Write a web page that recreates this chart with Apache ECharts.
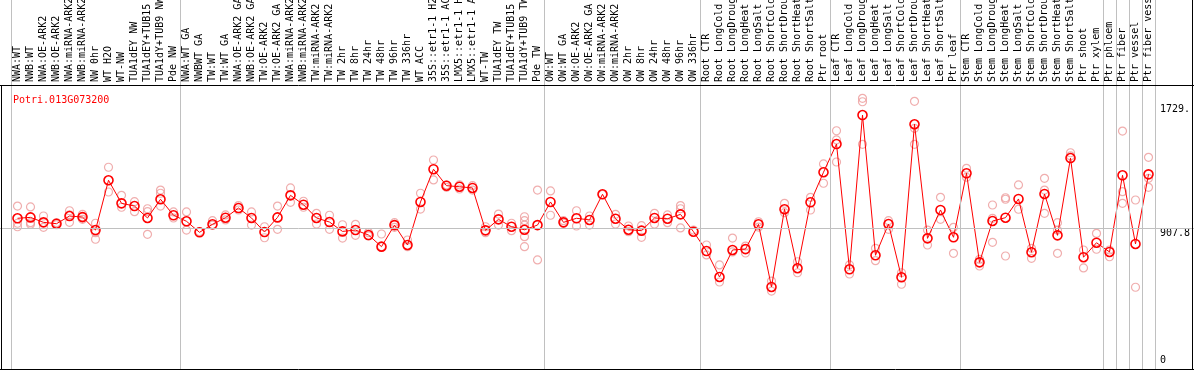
<!DOCTYPE html>
<html>
<head>
<meta charset="utf-8">
<script src="https://cdn.jsdelivr.net/npm/echarts@6/dist/echarts.min.js"></script>
<style>html,body{margin:0;padding:0;background:#fff}#c{width:1194px;height:370px}</style>
</head>
<body>
<div id="c"></div>
<script>
const geneTitle = "Potri.013G073200";
const categories = [
  "NWA:WT","NWB:WT","NWA:OE-ARK2","NWB:OE-ARK2","NWA:miRNA-ARK2","NWB:miRNA-ARK2","NW 0hr","WT H2O","WT-NW","TUA1dEY NW","TUA1dEY+TUB15","TUA1dY+TUB9 NW","Pde NW",
  "NWA:WT GA","NWBWT GA","TW:WT","TW:WT GA","NWA:OE-ARK2 GA","NWB:OE-ARK2 GA","TW:OE-ARK2","TW:OE-ARK2 GA","NWA:miRNA-ARK2","NWB:miRNA-ARK2","TW:miRNA-ARK2","TW:miRNA-ARK2","TW 2hr","TW 8hr","TW 24hr","TW 48hr","TW 96hr","TW 336hr","WT ACC","35S::etr1-1 H2O","35S::etr1-1 ACC","LMX5::etr1-1 H2O","LMX5::etr1-1 ACC","WT-TW","TUA1dEY TW","TUA1dEY+TUB15","TUA1dY+TUB9 TW","Pde TW",
  "OW:WT","OW:WT GA","OW:OE-ARK2","OW:OE-ARK2 GA","OW:miRNA-ARK2","OW:miRNA-ARK2","OW 2hr","OW 8hr","OW 24hr","OW 48hr","OW 96hr","OW 336hr",
  "Root CTR","Root LongCold","Root LongDrought","Root LongHeat","Root LongSalt","Root ShortCold","Root ShortDrought","Root ShortHeat","Root ShortSalt","Ptr root",
  "Leaf CTR","Leaf LongCold","Leaf LongDrought","Leaf LongHeat","Leaf LongSalt","Leaf ShortCold","Leaf ShortDrought","Leaf ShortHeat","Leaf ShortSalt","Ptr leaf",
  "Stem CTR","Stem LongCold","Stem LongDrought","Stem LongHeat","Stem LongSalt","Stem ShortCold","Stem ShortDrought","Stem ShortHeat","Stem ShortSalt","Ptr shoot",
  "Ptr xylem","Ptr phloem","Ptr fiber","Ptr vessel","Ptr fiber vessel"
];
const means = [
  972,978,945,936,987,980,894,1224,1071,1053,974,1098,992,
  952,879,932,976,1040,974,881,978,1124,1062,974,947,885,894,861,784,927,795,1080,1297,1188,1181,1173,892,965,916,896,927,
  1080,945,972,961,1131,969,896,890,974,969,998,883,
  755,583,762,768,932,517,1032,641,1078,1277,
  1464,634,1656,727,934,581,1595,839,1027,846,
  1270,680,954,976,1100,747,1133,859,1371,714,
  810,749,1257,802,1263
];
const replicates = [
  [1053,939,916],[1047,943,932],[987,912],[943,929],[1022,945,994],[998,982,965],[939,833,877],[1310,1146],[1124,1045],[1082,1016],[1035,866,1016],[1159,1138,1053],[1014,974],
  [1014,894],[883],[956,927],[994,961],[1056,1027],[1014,927],[916,843],[1053,899],[1173,1078],[1085,1045],[1005,934],[992,899],[929,841],[932,859],[877,855],[868,784],[943,912],[828,784],[1138,1033],[1358,1226],[1193,1177],[1193,1166],[1188,1159],[916,877],[1000,927],[939,890],[982,956,927,850,784],[1159,696],
  [1153,992],[956,939],[1022,921],[987,927],[1131],[998,934],[921,883],[923,846],[1005,934],[994,943],[1056,1035,908],[894],
  [795,729],[663,550],[841,749],[788,742],[949,914],[556,490],[1071,1009],[684,611],[1111,1027],[1332,1204],
  [1552,1491,1345],[663,603],[1767,1744,1462],[773,691],[956,899],[611,535],[1747,1568,1462],[894,795],[1111,965],[912,740],
  [1303,1244],[700,656],[1060,972,813],[1098,1108,722],[1193,1032],[773,707],[1237,1159,1005],[943,894,740],[1406,1385],[762,643],
  [872,767],[762,717],[1550,1148,1071],[1093,515],[1376,1237,1177]
];
const yTickValues = [907.8, 1729];
const yTickLabels = ["907.8", "1729."];
const yZeroLabel = "0";
const referenceLine = 907.8;
// group boundaries (in category index units)
const separatorPositions = [-0.5, 12.5, 40.5, 52.5, 62.5, 72.5, 83.5, 84.5, 85.5, 86.5, 87.5];

const FONT = "DejaVu Sans Mono";
const Y_MIN = -33.125, Y_MAX = 2418.125;

const repData = [];
replicates.forEach((arr, i) => arr.forEach(v => repData.push([i, v])));

const chart = echarts.init(document.getElementById('c'), null, {renderer: 'canvas'});
chart.setOption({
  animation: false,
  backgroundColor: '#fff',
  title: {
    text: geneTitle, left: 8, top: 90,
    textStyle: {color: '#ff0000', fontSize: 10, fontWeight: 'normal', fontFamily: FONT}
  },
  grid: [
    {left: 11, width: 1144, top: 0, height: 370, containLabel: false, outerBoundsMode: 'none'},
    {left: 0, right: 0, top: 0, height: 370, containLabel: false, outerBoundsMode: 'none'}
  ],
  xAxis: [
    {
      type: 'category', gridIndex: 0, data: categories, position: 'top', offset: -85,
      boundaryGap: true,
      axisLine: {show: false}, axisTick: {show: false}, splitLine: {show: false},
      axisLabel: {interval: 0, rotate: 90, margin: 3, fontSize: 10, fontFamily: FONT, color: '#000', hideOverlap: false}
    },
    {type: 'value', gridIndex: 0, min: -0.5, max: 87.5, show: false},
    {type: 'value', gridIndex: 1, min: 0, max: 1, show: false}
  ],
  yAxis: [
    {
      type: 'value', gridIndex: 0, position: 'right', min: Y_MIN, max: Y_MAX,
      axisLine: {show: false}, axisTick: {show: false}, splitLine: {show: false},
      axisLabel: {
        customValues: yTickValues, margin: 5, align: 'left', verticalAlign: 'top',
        fontSize: 10, fontFamily: FONT, color: '#000',
        formatter: v => { const k = yTickValues.indexOf(v); return k >= 0 ? yTickLabels[k] : ''; }
      }
    },
    {
      type: 'value', gridIndex: 0, position: 'right', min: Y_MIN, max: Y_MAX,
      axisLine: {show: false}, axisTick: {show: false}, splitLine: {show: false},
      axisLabel: {
        customValues: [0], margin: 5, align: 'left', verticalAlign: 'bottom',
        fontSize: 10, fontFamily: FONT, color: '#000',
        formatter: () => yZeroLabel
      }
    },
    {type: 'value', gridIndex: 1, min: Y_MIN, max: Y_MAX, show: false}
  ],
  series: [
    {
      type: 'line', xAxisIndex: 2, yAxisIndex: 2, data: [], silent: true,
      markLine: {
        symbol: 'none', silent: true, label: {show: false},
        lineStyle: {color: '#c0c0c0', width: 1, type: 'solid'},
        data: [{yAxis: referenceLine}]
      }
    },
    {
      type: 'line', xAxisIndex: 1, yAxisIndex: 0, data: [], silent: true,
      markLine: {
        symbol: 'none', silent: true, label: {show: false},
        lineStyle: {color: '#c0c0c0', width: 1, type: 'solid'},
        data: separatorPositions.map(p => ({xAxis: p}))
      }
    },
    {
      type: 'scatter', xAxisIndex: 0, yAxisIndex: 0, data: repData, z: 3,
      symbol: 'circle', symbolSize: 8,
      itemStyle: {color: 'rgba(0,0,0,0)', borderColor: '#ec9a9a', borderWidth: 1.2}
    },
    {
      type: 'line', xAxisIndex: 0, yAxisIndex: 0, data: means, z: 4,
      symbol: 'circle', symbolSize: 9, showAllSymbol: true,
      lineStyle: {color: '#ff0000', width: 1},
      itemStyle: {color: 'rgba(0,0,0,0)', borderColor: '#ff0000', borderWidth: 1.6}
    }
  ],
  graphic: [
    {type: 'line', silent: true, z: 100, shape: {x1: 0, y1: 85.5, x2: 1194, y2: 85.5}, style: {stroke: '#000', lineWidth: 1}},
    {type: 'line', silent: true, z: 100, shape: {x1: 1.5, y1: 85, x2: 1.5, y2: 370}, style: {stroke: '#000', lineWidth: 1}},
    {type: 'line', silent: true, z: 100, shape: {x1: 1192.5, y1: 0, x2: 1192.5, y2: 370}, style: {stroke: '#000', lineWidth: 1}},
    {type: 'line', silent: true, z: 100, shape: {x1: 0, y1: 369.5, x2: 1194, y2: 369.5}, style: {stroke: '#000', lineWidth: 1}}
  ]
});
</script>
</body>
</html>
